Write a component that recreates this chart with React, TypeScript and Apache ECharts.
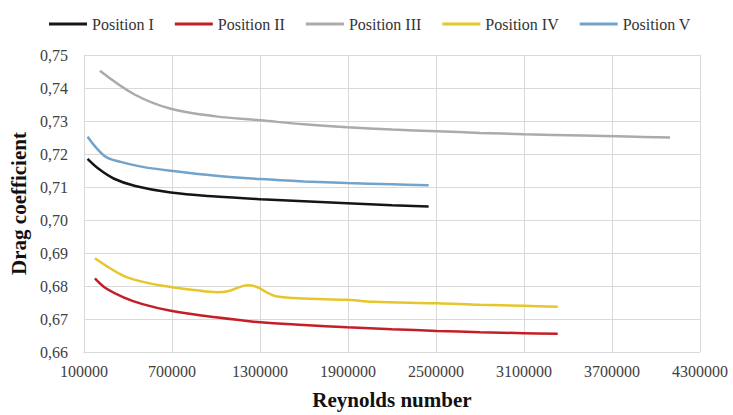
import React, { useEffect, useRef } from "react";
import * as echarts from "echarts";

const seriesNames = ["Position I", "Position II", "Position III", "Position IV", "Position V"];

const xTickLabels = ["100000", "700000", "1300000", "1900000", "2500000", "3100000", "3700000", "4300000"];
const yTickLabels = ["0,66", "0,67", "0,68", "0,69", "0,70", "0,71", "0,72", "0,73", "0,74", "0,75"];

const positionI: [number, number][] = [
  [125000, 0.7185], [200000, 0.7155], [306000, 0.7125], [450000, 0.7103], [692000, 0.7083],
  [1000000, 0.7071], [1305000, 0.7063], [1600000, 0.7057], [1895000, 0.7051], [2200000, 0.7045],
  [2450000, 0.7041],
];
const positionII: [number, number][] = [
  [175000, 0.6823], [250000, 0.6793], [374000, 0.6765], [500000, 0.6745], [692000, 0.6725],
  [1000000, 0.6705], [1305000, 0.669], [1600000, 0.6682], [1895000, 0.6675], [2200000, 0.6669],
  [2507000, 0.6664], [2800000, 0.666], [3100000, 0.6657], [3330000, 0.6655],
];
const positionIII: [number, number][] = [
  [209000, 0.7452], [442000, 0.7381], [692000, 0.7337], [1000000, 0.7314], [1305000, 0.7302],
  [1600000, 0.729], [1895000, 0.7281], [2200000, 0.7274], [2508000, 0.7269], [2800000, 0.7264],
  [3100000, 0.726], [3500000, 0.7256], [3800000, 0.7253], [4096000, 0.725],
];
const positionIV: [number, number][] = [
  [175000, 0.6884], [374000, 0.683], [550000, 0.6808], [692000, 0.6797], [850000, 0.6788],
  [1010000, 0.6781], [1080000, 0.6784], [1150000, 0.6795], [1214000, 0.6802], [1280000, 0.6797],
  [1350000, 0.678], [1418000, 0.6768], [1600000, 0.6762], [1895000, 0.6758], [2070000, 0.6752],
  [2507000, 0.6748], [2800000, 0.6743], [3100000, 0.674], [3330000, 0.6737],
];
const positionV: [number, number][] = [
  [125000, 0.7252], [238000, 0.7195], [350000, 0.7176], [500000, 0.7161], [692000, 0.7149],
  [1000000, 0.7134], [1305000, 0.7124], [1600000, 0.7117], [1895000, 0.7112], [2200000, 0.7108],
  [2450000, 0.7105],
];

const seriesData = [positionI, positionII, positionIII, positionIV, positionV];
const seriesColors = ["#151515", "#c41e26", "#ababab", "#e6c62a", "#72a3cb"];

const X_MIN = 100000;
const X_MAX = 4300000;
const X_STEP = 600000;
const Y_MIN = 0.66;
const Y_MAX = 0.75;

export default function App() {
  const ref = useRef<HTMLDivElement>(null);
  useEffect(() => {
    if (!ref.current) return;
    const chart = echarts.init(ref.current, null, { renderer: "svg" });
    const font = "Liberation Serif";
    // shift x so axis min is 0 (multiple of interval); scale y by 100
    const toPlot = (d: [number, number][]) => d.map(([x, y]) => [x - X_MIN, Math.round(y * 10000) / 100]);
    chart.setOption({
      animation: false,
      backgroundColor: "#ffffff",
      textStyle: { fontFamily: font },
      legend: {
        top: 11,
        left: 44,
        icon: "rect",
        itemWidth: 38,
        itemHeight: 3,
        itemGap: 21,
        textStyle: { fontFamily: font, fontSize: 16, color: "#333333" },
        data: seriesNames,
      },
      grid: { left: 83, right: 33, top: 55, bottom: 62 },
      xAxis: {
        type: "value",
        min: 0,
        max: X_MAX - X_MIN,
        interval: X_STEP,
        name: "Reynolds number",
        nameLocation: "middle",
        nameGap: 37,
        nameTextStyle: { fontFamily: font, fontSize: 21, fontWeight: "bold", color: "#111111" },
        axisLine: { show: true, lineStyle: { color: "#d9d9d9" } },
        axisTick: { show: false },
        axisLabel: {
          fontFamily: font,
          fontSize: 16,
          color: "#404040",
          margin: 11,
          formatter: (v: number) => xTickLabels[Math.round(v / X_STEP)] ?? "",
        },
        splitLine: { show: true, lineStyle: { color: "#d9d9d9" } },
      },
      yAxis: {
        type: "value",
        min: Y_MIN * 100,
        max: Y_MAX * 100,
        interval: 1,
        name: "Drag coefficient",
        nameLocation: "middle",
        nameGap: 50,
        nameTextStyle: { fontFamily: font, fontSize: 21, fontWeight: "bold", color: "#111111" },
        axisLine: { show: true, lineStyle: { color: "#d9d9d9" } },
        axisTick: { show: false },
        axisLabel: {
          fontFamily: font,
          fontSize: 16,
          color: "#404040",
          margin: 16,
          formatter: (v: number) => yTickLabels[Math.round(v - Y_MIN * 100)] ?? "",
        },
        splitLine: { show: true, lineStyle: { color: "#d9d9d9" } },
      },
      series: seriesNames.map((name, i) => ({
        name,
        type: "line",
        data: toPlot(seriesData[i]),
        smooth: 0.35,
        showSymbol: false,
        symbol: "none",
        lineStyle: { color: seriesColors[i], width: 2.5 },
        itemStyle: { color: seriesColors[i] },
      })),
    });
    return () => chart.dispose();
  }, []);
  return <div ref={ref} style={{ width: 733, height: 415, position: "absolute", left: 0, top: 0 }} />;
}
